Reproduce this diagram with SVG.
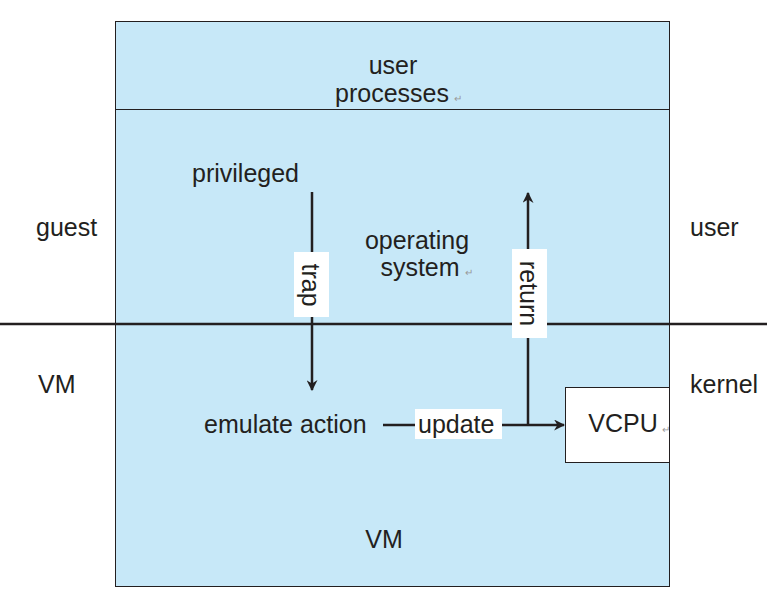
<svg xmlns="http://www.w3.org/2000/svg" width="767" height="607" viewBox="0 0 767 607">
<defs>
<style>
.t{font-family:"Liberation Sans",Arial,sans-serif;font-size:25px;fill:#231f20}
.m{font-family:"Liberation Sans",Arial,sans-serif;font-size:10px;fill:#999}
.ln{stroke:#231f20;stroke-width:2.5;fill:none}
.lab{fill:#fff;stroke:none}
</style>
<marker id="ah" viewBox="0 0 10 10" refX="9" refY="5" markerWidth="4.4" markerHeight="4.4" orient="auto" markerUnits="strokeWidth">
<path d="M0,0 L10,5 L0,10 L3,5 Z" fill="#231f20"/>
</marker>
</defs>
<rect width="767" height="607" fill="#fff"/>
<g id="vm-box">
<rect x="115.5" y="21.5" width="554" height="565" fill="#c7e8f8" stroke="#231f20" stroke-width="1"/>
<text class="t" x="384" y="548" text-anchor="middle">VM</text>
</g>
<g id="user-processes">
<line x1="115.5" y1="109.5" x2="669.5" y2="109.5" stroke="#231f20" stroke-width="1"/>
<text class="t" x="393" y="74" text-anchor="middle">user</text>
<text class="t" x="392" y="102" text-anchor="middle">processes</text>
<text class="m" x="454" y="102">↵</text>
</g>
<g id="operating-system">
<text class="t" x="417" y="249" text-anchor="middle">operating</text>
<text class="t" x="420" y="276" text-anchor="middle">system</text>
<text class="m" x="465" y="276">↵</text>
</g>
<g id="privileged">
<text class="t" x="192" y="182">privileged</text>
</g>
<g id="emulate-action">
<text class="t" x="204" y="433">emulate action</text>
</g>
<g id="vcpu">
<rect x="565.5" y="387.5" width="104" height="75" fill="#fff" stroke="#231f20" stroke-width="1"/>
<text class="t" x="623" y="432" text-anchor="middle">VCPU</text>
<text class="m" x="662" y="433">↵</text>
</g>
<g id="side-labels">
<text class="t" x="36" y="236">guest</text>
<text class="t" x="38" y="393">VM</text>
<text class="t" x="690" y="236">user</text>
<text class="t" x="690" y="393">kernel</text>
</g>
<g id="connectors">
<line x1="0" y1="324" x2="767" y2="324" stroke="#231f20" stroke-width="2.5"/>
<line class="ln" x1="312" y1="192" x2="312" y2="390" marker-end="url(#ah)"/>
<line class="ln" x1="528" y1="425" x2="528" y2="193" marker-end="url(#ah)"/>
<line class="ln" x1="383" y1="425" x2="564" y2="425" marker-end="url(#ah)"/>
<rect class="lab" x="294" y="252" width="35" height="65"/>
<text class="t" transform="translate(302,285) rotate(90)" text-anchor="middle">trap</text>
<rect class="lab" x="512" y="249" width="35" height="89"/>
<text class="t" transform="translate(520,293.5) rotate(90)" text-anchor="middle">return</text>
<rect class="lab" x="415" y="409" width="87" height="30"/>
<text class="t" x="418" y="433">update</text>
</g>
</svg>
